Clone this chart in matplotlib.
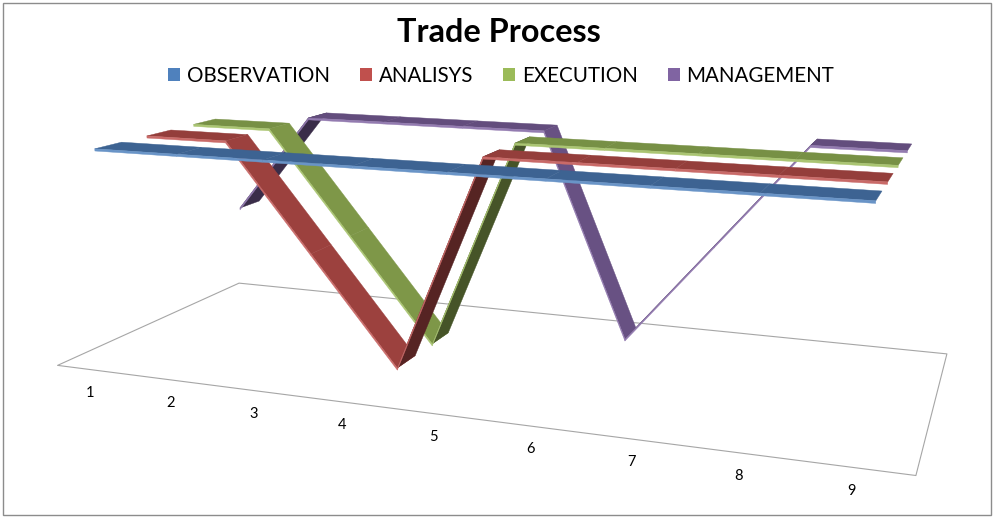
import numpy as np
import matplotlib
matplotlib.use("Agg")
import matplotlib.pyplot as plt
from mpl_toolkits.mplot3d.art3d import Poly3DCollection
from mpl_toolkits.mplot3d import proj3d
from matplotlib.patches import Patch, Rectangle
from matplotlib.colors import to_rgb

# ---- data ----
categories = [1, 2, 3, 4, 5, 6, 7, 8, 9]
observation = [2, 2, 2, 2, 2, 2, 2, 2, 2]
analisys = [2, 2, 1, 0, 2, 2, 2, 2, 2]
execution = [2, 2, 1, 0, 2, 2, 2, 2, 2]
management = [1, 2, 2, 2, 2, 0, 1, 2, 2]
series_names = ["OBSERVATION", "ANALISYS", "EXECUTION", "MANAGEMENT"]
series_values = [observation, analisys, execution, management]
series_colors = ["#4F81BD", "#C0504D", "#9BBB59", "#8064A2"]

FONT = "Lato"
W, H = 998, 523

fig = plt.figure(figsize=(W / 100, H / 100), dpi=100)
fig.patch.set_facecolor("white")

# square 3D axes (side S px) centred on the scene centre
S = 476
cx, cy = 501, 261
ax = fig.add_axes([(cx - S / 2) / W, 1 - (cy + S / 2) / H, S / W, S / H],
                  projection="3d", proj_type="persp", focal_length=0.561)
ax.computed_zorder = False
ax.set_axis_off()
ax.patch.set_alpha(0)

x = np.array(categories, dtype=float)
n_series = len(series_names)
xmin, xmax = x[0] - 0.5, x[-1] + 0.5
ax.set_xlim(xmin, xmax)
ax.set_ylim(0, n_series)
ax.set_zlim(0, 2)
ax.set_box_aspect((9.85, 4.15, 2.58), zoom=1.9)
ax.view_init(elev=13.4, azim=-69.6)

# floor
floor = Poly3DCollection([[(xmin, 0, 0), (xmax, 0, 0), (xmax, n_series, 0), (xmin, n_series, 0)]],
                         facecolor="white", edgecolor="#a6a6a6", linewidth=0.8)
floor.set_zorder(0)
floor.set_clip_on(False)
ax.add_collection3d(floor)


def shade(c, f):
    r = np.array(to_rgb(c))
    if f <= 1:
        return tuple(r * f)
    return tuple(r + (1 - r) * (f - 1))


hw = 0.25
thick = 0.02
for k in range(n_series - 1, -1, -1):
    vals = np.array(series_values[k], dtype=float)
    col = series_colors[k]
    yc = k + 0.5
    yf, yb = yc - hw, yc + hw
    polys, fcs = [], []
    for i in range(len(x) - 1):
        x0, x1 = x[i], x[i + 1]
        z0, z1 = vals[i], vals[i + 1]
        d = z1 - z0
        f = 0.77 if d == 0 else (0.81 if d < 0 else 0.45)
        polys.append([(x0, yf, z0), (x1, yf, z1), (x1, yb, z1), (x0, yb, z0)])
        fcs.append(shade(col, f))
        polys.append([(x0, yf, z0), (x1, yf, z1), (x1, yf, z1 - thick), (x0, yf, z0 - thick)])
        fcs.append(shade(col, 1.15))
    pc = Poly3DCollection(polys, facecolors=fcs, edgecolors=fcs, linewidths=0.3)
    pc.set_zorder(10 + (n_series - k))
    pc.set_clip_on(False)
    ax.add_collection3d(pc)

# category labels: project front-edge points, then offset in screen pixels
M = ax.get_proj()
lx, ly, _ = proj3d.proj_transform(x, np.zeros_like(x), np.zeros_like(x), M)
for px, py, c in zip(lx, ly, categories):
    ax.annotate(str(c), xy=(px, py), xycoords="data", xytext=(-6, -23),
                textcoords="offset pixels", ha="center", va="center",
                fontsize=10.5, family=FONT, color="black",
                annotation_clip=False, zorder=30)

fig.text(0.5, 1 - 33 / H, "Trade Process", ha="center", va="center",
         fontsize=23.3, fontweight="bold", family=FONT)

handles = [Patch(facecolor=c, edgecolor="none") for c in series_colors]
fig.legend(handles, series_names, loc="center", bbox_to_anchor=(501 / W, 1 - 76 / H),
           ncol=4, frameon=False, handlelength=0.58, handleheight=0.58,
           handletextpad=0.34, columnspacing=1.46, borderpad=0,
           prop={"family": FONT, "size": 14.8})

fig.patches.append(Rectangle((3 / W, 8 / H), 988 / W, 512 / H,
                             transform=fig.transFigure, fill=False,
                             edgecolor="#8c8c8c", linewidth=1.0))

fig.savefig("out.png", dpi=100)
